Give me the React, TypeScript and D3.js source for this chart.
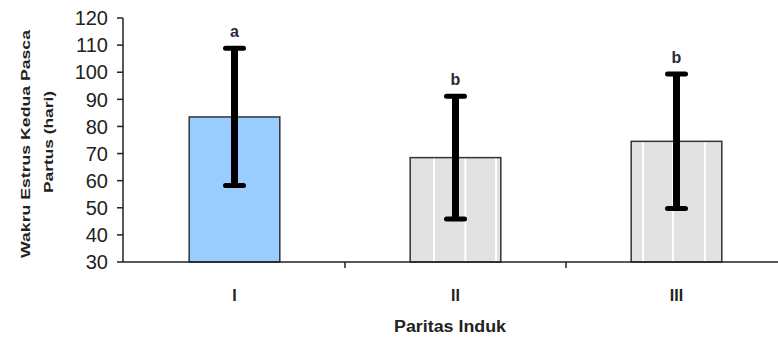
import * as d3 from "d3";
import React, { useEffect, useRef } from "react";

const categories = ["I", "II", "III"];
const means = [83.5, 68.5, 74.5];
const sds = [25.3, 22.6, 24.8];
const letters = ["a", "b", "b"];
const yTicks = [30, 40, 50, 60, 70, 80, 90, 100, 110, 120];

const width = 778;
const height = 338;

const App = () => {
  const ref = useRef<SVGSVGElement>(null);

  useEffect(() => {
    drawChart();
  }, []);

  const drawChart = () => {
    const svg = d3.select(ref.current);
    svg.selectAll("*").remove();

    const x = d3
      .scaleBand()
      .domain(categories)
      .range([124, 787])
      .paddingInner(0.59)
      .paddingOuter(0.295);

    const y = d3.scaleLinear().domain([30, 120]).range([262, 18]);

    // striped grey fills like the old excel bars
    const defs = svg.append("defs");
    const stripes = [
      { id: "stripeII", lines: [0.26, 0.61, 0.95] },
      { id: "stripeIII", lines: [0.13, 0.46, 0.81] },
    ];
    stripes.forEach((s) => {
      const g = defs
        .append("linearGradient")
        .attr("id", s.id)
        .attr("x1", 0)
        .attr("x2", 1)
        .attr("y1", 0)
        .attr("y2", 0);
      g.append("stop").attr("offset", 0).attr("stop-color", "#e2e2e2");
      s.lines.forEach((p) => {
        g.append("stop").attr("offset", p - 0.012).attr("stop-color", "#e2e2e2");
        g.append("stop").attr("offset", p - 0.01).attr("stop-color", "#ffffff");
        g.append("stop").attr("offset", p + 0.01).attr("stop-color", "#ffffff");
        g.append("stop").attr("offset", p + 0.012).attr("stop-color", "#e2e2e2");
      });
      g.append("stop").attr("offset", 1).attr("stop-color", "#e2e2e2");
    });
    const fills = ["#99ccff", "url(#stripeII)", "url(#stripeIII)"];

    // bars
    svg
      .selectAll("rect.bar")
      .data(means)
      .enter()
      .append("rect")
      .attr("class", "bar")
      .attr("x", (_, i) => x(categories[i]))
      .attr("y", (d) => y(d))
      .attr("width", x.bandwidth())
      .attr("height", (d) => y(30) - y(d))
      .attr("fill", (_, i) => fills[i])
      .attr("stroke", "#333")
      .attr("stroke-width", 1.5);

    // error bars
    const cx = (i) => x(categories[i]) + x.bandwidth() / 2;
    const err = svg.append("g");
    means.forEach((m, i) => {
      err
        .append("line")
        .attr("x1", cx(i))
        .attr("x2", cx(i))
        .attr("y1", y(m + sds[i]))
        .attr("y2", y(m - sds[i]))
        .attr("stroke", "#000")
        .attr("stroke-width", 7);
      [m + sds[i], m - sds[i]].forEach((v) => {
        err
          .append("line")
          .attr("x1", cx(i) - 9)
          .attr("x2", cx(i) + 9)
          .attr("y1", y(v))
          .attr("y2", y(v))
          .attr("stroke", "#000")
          .attr("stroke-width", 5)
          .attr("stroke-linecap", "round");
      });
      err
        .append("text")
        .attr("x", cx(i))
        .attr("y", y(m + sds[i]) - 11)
        .attr("text-anchor", "middle")
        .attr("font-family", "Liberation Sans, Arial, sans-serif")
        .attr("font-weight", "bold")
        .attr("font-size", 16)
        .attr("fill", "#2a2a3a")
        .text(letters[i]);
    });

    // y axis
    const yAxis = svg.append("g").attr("transform", "translate(123,0)");
    yAxis
      .append("line")
      .attr("x1", 0)
      .attr("x2", 0)
      .attr("y1", y(120))
      .attr("y2", y(30))
      .attr("stroke", "#222")
      .attr("stroke-width", 1.5);
    yTicks.forEach((t) => {
      yAxis
        .append("line")
        .attr("x1", -6)
        .attr("x2", 0)
        .attr("y1", y(t))
        .attr("y2", y(t))
        .attr("stroke", "#222")
        .attr("stroke-width", 1.5);
      yAxis
        .append("text")
        .attr("x", -15)
        .attr("y", y(t))
        .attr("dy", "0.36em")
        .attr("text-anchor", "end")
        .attr("font-family", "Liberation Sans, Arial, sans-serif")
        .attr("font-size", 20)
        .attr("fill", "#222")
        .text(t);
    });

    // x axis
    const xAxis = svg.append("g");
    xAxis
      .append("line")
      .attr("x1", 123)
      .attr("x2", width)
      .attr("y1", y(30))
      .attr("y2", y(30))
      .attr("stroke", "#222")
      .attr("stroke-width", 1.5);
    categories.slice(1).forEach((c) => {
      const xp = x(c) - (x.step() - x.bandwidth()) / 2;
      xAxis
        .append("line")
        .attr("x1", xp)
        .attr("x2", xp)
        .attr("y1", y(30))
        .attr("y2", y(30) + 6)
        .attr("stroke", "#222")
        .attr("stroke-width", 1.5);
    });
    categories.forEach((c, i) => {
      xAxis
        .append("text")
        .attr("x", cx(i))
        .attr("y", 301)
        .attr("text-anchor", "middle")
        .attr("font-family", "Liberation Sans, Arial, sans-serif")
        .attr("font-weight", "bold")
        .attr("font-size", 16)
        .attr("fill", "#222")
        .text(c);
    });

    svg
      .append("text")
      .attr("x", 450)
      .attr("y", 332)
      .attr("text-anchor", "middle")
      .attr("font-family", "Liberation Sans, Arial, sans-serif")
      .attr("font-weight", "bold")
      .attr("font-size", 16)
      .attr("fill", "#222")
      .attr("textLength", 112)
      .attr("lengthAdjust", "spacingAndGlyphs")
      .text("Paritas Induk");

    // y title, two lines
    const title = svg
      .append("g")
      .attr("font-family", "Liberation Sans, Arial, sans-serif")
      .attr("font-weight", "bold")
      .attr("font-size", 13.5)
      .attr("fill", "#222");
    title
      .append("text")
      .attr("transform", "translate(30,144) rotate(-90)")
      .attr("text-anchor", "middle")
      .attr("textLength", 228)
      .attr("lengthAdjust", "spacingAndGlyphs")
      .text("Wakru Estrus Kedua Pasca");
    title
      .append("text")
      .attr("transform", "translate(53,142) rotate(-90)")
      .attr("text-anchor", "middle")
      .attr("textLength", 102)
      .attr("lengthAdjust", "spacingAndGlyphs")
      .text("Partus (hari)");
  };

  return (
    <svg
      ref={ref}
      width={width}
      height={height}
      style={{ position: "absolute", left: 0, top: 0, background: "#fff" }}
    />
  );
};

export default App;
